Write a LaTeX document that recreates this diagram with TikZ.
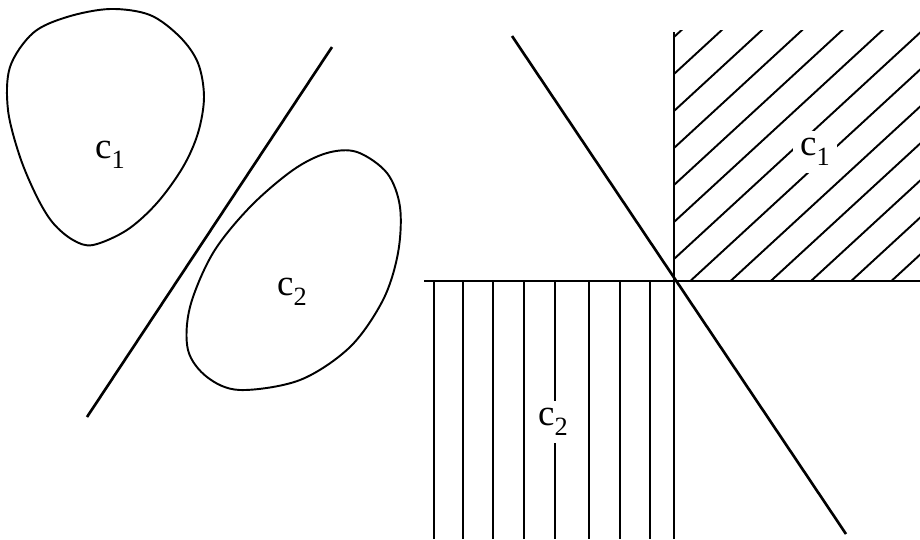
\documentclass[tikz,border=0pt]{standalone}
\usepackage{fontspec}
\setmainfont{Liberation Serif}
\usetikzlibrary{calc}
\tikzset{
    region/.style={line width=1.1pt, line join=round},
    divider/.style={line width=1.5pt},
    hatch/.style={line width=1.1pt},
    classlabel/.style={font=\fontsize{21}{25}\selectfont, inner sep=2pt},
    gaplabel/.style={classlabel, fill=white, inner sep=4pt}
}
\newcommand{\cls}[1]{c\raisebox{-5.5pt}{\fontsize{15}{15}\selectfont #1}}

\begin{document}
\begin{tikzpicture}[x=0.02cm, y=-0.02cm]
                \useasboundingbox (0,0) rectangle (920,539);
                \coordinate (L1) at (332,47);
                \coordinate (L2) at (87,417);
                \coordinate (O) at (674,281);
                \coordinate (Xl) at (424,281);
                \coordinate (Xr) at (920,281);
                \coordinate (Yt) at (674,32);
                \coordinate (Yb) at (674,539);
                \coordinate (D1) at (512,36);
                \coordinate (D2) at (846,534);
                \draw[region] plot[smooth cycle, tension=0.55] coordinates {
                    (10,67) (33,33) (67,17) (110,9) (150,15) (180,37) (198,63)
                    (204,97) (198,133) (183,167) (157,203) (127,230) (93,245)
                    (73,240) (53,223) (37,197) (20,157) (8,110)};
                \draw[region] plot[smooth cycle, tension=0.55] coordinates {
                    (357,152) (387,173) (400,207) (398,253) (383,300) (350,347)
                    (300,380) (240,390) (207,377) (188,350) (190,307) (213,253)
                    (250,207) (293,170) (327,153)};
                \draw[divider] (L1) -- (L2);
                \node[classlabel] (A1) at (110,155) {\cls{1}};
                \node[classlabel] (A2) at (292,292) {\cls{2}};
                \begin{scope}
                    \clip (674,30) rectangle (920,281);
                    \foreach \c in {-200,-163,...,244}
                        \draw[hatch] ($(O)+(0,-\c)$) -- ++(300,-276);
                \end{scope}
                \foreach \x in {434,463,493,524,555,589,620,650}
                    \draw[hatch] (\x,281) -- (\x,539);
                \draw[divider] (Xl) -- (Xr);
                \draw[divider] (Yt) -- (Yb);
                \draw[divider] (D1) -- (D2);
                \node[gaplabel] (B1) at (815,152) {\cls{1}};
                \node[gaplabel] (B2) at (553,422) {\cls{2}};
            \end{tikzpicture}
\end{document}
